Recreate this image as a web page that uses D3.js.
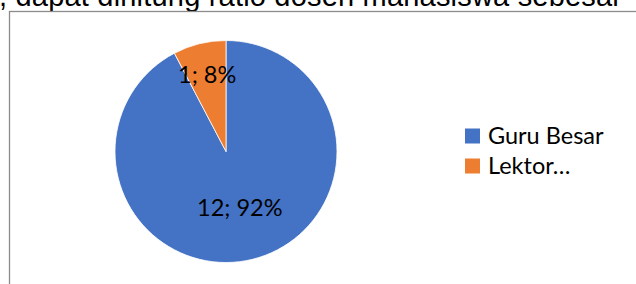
<!DOCTYPE html>
<html>
<head>
<meta charset="utf-8">
<script src="https://cdn.jsdelivr.net/npm/d3@7"></script>
<style>
  html, body { margin: 0; padding: 0; background: #fff; }
  svg { display: block; }
</style>
</head>
<body>
<svg id="chart" width="636" height="284"></svg>
<script>
const categories = ["Guru Besar", "Lektor\u2026"];
const values = [12, 1];
const percents = ["92%", "8%"];
const colors = ["#4472C4", "#ED7D31"];
const headerText = ", dapat dihitung ratio dosen mahasiswa sebesar";

const svg = d3.select("#chart");
const W = 636, H = 284;

// header text (cropped paragraph line above the chart)
svg.append("text")
  .attr("x", -1).attr("y", 6)
  .attr("font-family", "'Liberation Sans', Arial, sans-serif")
  .attr("font-size", 29)
  .attr("fill", "#000")
  .attr("textLength", 623)
  .attr("lengthAdjust", "spacing")
  .text(headerText);

// chart frame
svg.append("rect")
  .attr("x", 9.5).attr("y", 11.5)
  .attr("width", W).attr("height", H)
  .attr("fill", "#fff")
  .attr("stroke", "#8c8c8c")
  .attr("stroke-width", 1.3);

const cx = 226, cy = 151.5, R = 111;
const pie = d3.pie().sort(null).value(d => d)(values);
const arc = d3.arc().innerRadius(0).outerRadius(R);

const g = svg.append("g").attr("transform", `translate(${cx},${cy})`);
g.selectAll("path").data(pie).join("path")
  .attr("d", arc)
  .attr("fill", (d, i) => colors[i])
  .attr("stroke", "#fff")
  .attr("stroke-width", 0.8);

const labelFrac = [0.52, 0.71];
const labelFont = "Lato, 'Open Sans', sans-serif";
g.selectAll("text.lbl").data(pie).join("text")
  .attr("class", "lbl")
  .attr("transform", (d, i) => {
    const a = (d.startAngle + d.endAngle) / 2;
    const r = R * labelFrac[i];
    return `translate(${Math.sin(a) * r},${-Math.cos(a) * r})`;
  })
  .attr("text-anchor", "middle")
  .attr("dy", "0.35em")
  .attr("font-family", labelFont)
  .attr("font-size", 23.5)
  .attr("fill", "#000")
  .text((d, i) => `${values[i]}; ${percents[i]}`);

// legend
const ly = d3.scaleBand().domain(categories).range([121, 181]);
const leg = svg.append("g");
categories.forEach((c, i) => {
  const y = ly(c) + ly.bandwidth() / 2;
  leg.append("rect")
    .attr("x", 465).attr("y", y - 7.5)
    .attr("width", 15).attr("height", 15)
    .attr("fill", colors[i]);
  leg.append("text")
    .attr("x", 488).attr("y", y + 7.5)
    .attr("font-family", labelFont)
    .attr("font-size", 23.5)
    .attr("fill", "#000")
    .text(c);
});
</script>
</body>
</html>
